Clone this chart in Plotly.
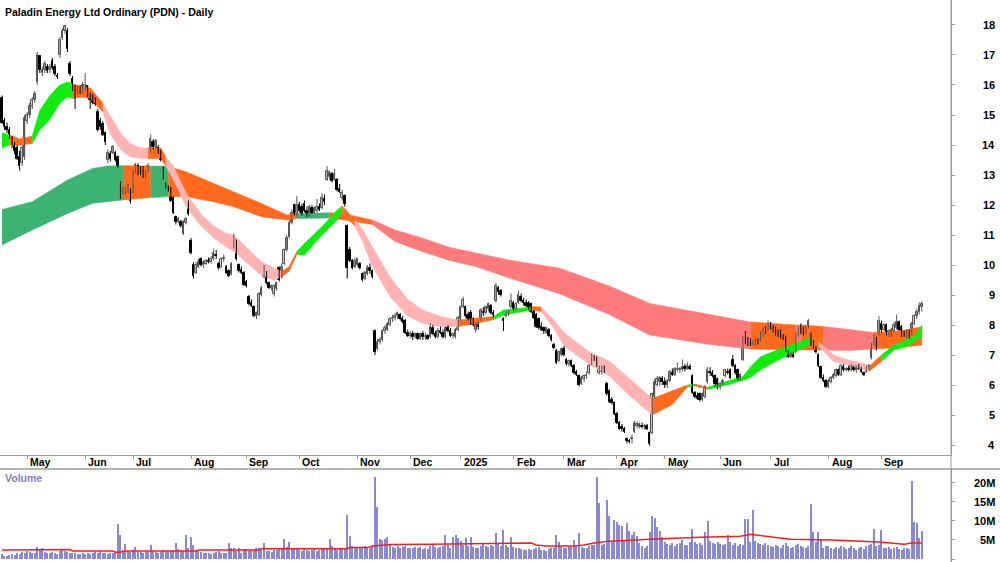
import pandas as pd
import plotly.graph_objects as go

# ---------------- data ----------------
holidays = ["2024-04-25", "2024-06-10", "2024-12-25", "2024-12-26", "2025-01-01",
            "2025-01-27", "2025-04-18", "2025-04-21", "2025-04-25", "2025-06-09"]
dates = pd.bdate_range("2024-04-16", "2025-09-23")
dates = dates[~dates.isin(pd.to_datetime(holidays))]

opens = [
    15.55,14.8,14.6,14.5,14.2,14.0,13.9,13.6,13.4,13.6,
    14.8,15.0,15.3,15.5,16.1,16.95,16.4,16.5,16.6,16.5,16.8,16.6,16.3,17.0,17.55,17.8,17.8,16.7,16.2,15.9,15.8,15.9,15.8,
    15.9,15.95,15.7,15.65,15.55,15.1,14.8,14.7,14.4,13.5,13.7,13.75,13.75,13.6,12.6,12.45,12.4,12.5,12.5,
    12.45,13.1,13.3,13.2,13.2,12.95,13.15,13.8,14.1,13.95,13.9,13.8,13.2,12.7,12.6,12.55,12.25,11.6,11.45,11.45,11.05,11.4,12.05,
    10.8,10.0,9.75,9.95,10.2,10.0,10.05,10.15,10.1,10.2,10.35,10.05,9.95,10.2,9.95,9.8,9.7,10.6,10.8,10.0,9.85,9.75,
    9.45,8.95,8.75,8.6,8.3,8.35,9.0,9.6,9.75,9.4,9.25,9.05,9.2,9.9,9.6,10.05,10.5,10.95,11.4,12.0,11.7,
    12.0,11.95,12.05,11.8,11.65,11.9,11.75,11.8,11.95,11.9,12.2,12.85,12.95,13.05,12.85,12.85,12.55,12.25,12.3,11.3,10.5,10.15,9.95,
    10.0,10.05,9.7,9.55,9.7,9.9,9.8,7.8,7.2,7.45,7.5,7.8,7.85,8.0,8.2,8.25,8.3,8.35,8.2,8.15,7.75,
    7.65,7.7,7.6,7.7,7.55,7.7,7.6,7.65,7.6,7.9,7.7,7.6,7.8,7.75,7.6,7.9,7.8,7.65,7.6,7.85,
    8.2,8.6,8.6,8.35,8.4,8.2,7.85,8.0,8.2,8.45,8.4,8.55,8.65,8.4,8.8,9.25,9.15,8.2,8.3,8.4,8.6,
    8.75,8.55,8.75,8.95,8.8,8.75,8.75,8.7,8.45,8.35,8.2,7.95,7.9,7.75,7.85,7.65,7.35,7.15,6.8,7.0,
    7.2,6.85,6.7,6.8,6.65,6.45,6.3,6.05,6.2,6.3,6.4,6.7,6.95,6.9,6.4,6.45,6.6,6.05,5.8,5.5,5.4,
    5.05,4.75,4.6,4.55,4.2,4.15,4.2,4.45,4.65,4.6,4.65,4.6,4.65,4.4,4.4,5.6,6.0,6.1,6.2,
    6.1,6.0,6.15,6.4,6.35,6.5,6.5,6.5,6.6,6.55,6.6,6.3,5.75,5.65,5.7,5.5,5.6,6.1,6.45,6.4,6.3,6.2,
    5.95,6.05,6.3,6.45,6.5,6.85,6.65,6.5,6.25,6.85,7.5,7.45,7.4,7.35,7.35,7.45,7.5,7.7,7.85,7.85,
    8.05,7.95,7.9,7.75,7.8,7.6,7.6,7.1,6.95,7.0,7.1,7.65,7.9,7.8,7.75,7.95,7.7,7.4,7.25,7.0,6.6,6.25,6.15,
    5.95,6.1,6.25,6.3,6.5,6.35,6.6,6.5,6.55,6.5,6.6,6.5,6.6,6.5,6.4,6.45,6.6,6.9,7.35,7.55,7.7,
    8.05,7.85,8.0,7.7,7.65,7.8,7.9,8.1,7.95,7.7,7.6,7.75,7.7,8.05,8.3,8.45,8.6,
]
highs = [
    15.65,14.9,14.75,14.6,14.3,14.1,14.0,13.8,14.0,15.0,
    15.1,15.4,15.6,15.8,17.1,17.0,16.6,16.8,16.7,16.7,16.9,16.7,16.4,17.6,17.9,18.0,17.9,16.8,16.3,16.0,16.0,16.0,16.1,
    16.4,16.0,15.75,15.7,15.6,15.2,14.9,14.8,14.45,13.85,13.8,14.0,13.8,13.65,12.8,12.6,12.6,12.7,12.55,
    13.2,13.4,13.4,13.3,13.3,13.15,13.4,14.35,14.2,14.2,14.0,13.85,13.3,12.75,12.65,12.6,12.3,11.65,11.6,11.5,11.5,11.6,12.15,
    10.9,10.1,10.1,10.2,10.25,10.15,10.2,10.25,10.3,10.55,10.5,10.1,10.25,10.35,10.0,9.85,10.1,11.05,10.85,10.05,9.95,9.8,
    9.5,9.0,8.85,8.65,8.45,9.1,9.3,10.0,9.8,9.45,9.35,9.35,9.45,9.95,10.05,10.55,11.0,11.5,11.85,12.05,12.3,
    12.1,12.05,12.15,11.95,12.0,12.0,11.95,12.2,12.05,12.4,12.35,13.3,13.15,13.1,13.2,12.9,12.7,12.5,12.35,11.35,10.6,10.2,10.25,
    10.25,10.1,9.75,9.8,10.0,10.05,9.85,7.85,7.55,7.6,7.85,8.0,8.1,8.25,8.35,8.4,8.45,8.4,8.3,8.2,7.85,
    7.8,7.8,7.75,7.75,7.75,7.8,7.75,7.7,8.05,8.0,7.8,7.9,7.95,7.85,7.95,8.0,7.9,7.75,7.9,8.3,
    8.65,8.95,8.65,8.45,8.5,8.25,8.1,8.1,8.55,8.6,8.65,8.75,8.7,8.5,9.4,9.3,9.2,8.25,8.45,8.5,9.05,
    8.8,8.75,9.15,9.05,8.9,8.85,8.8,8.75,8.5,8.4,8.25,8.1,7.95,7.95,7.9,7.7,7.4,7.2,7.15,7.25,
    7.3,6.9,6.85,6.85,6.7,6.5,6.35,6.3,6.35,6.45,6.7,7.05,7.0,6.95,6.65,6.65,6.65,6.1,5.85,5.6,5.45,
    5.1,4.8,4.7,4.6,4.25,4.2,4.35,4.8,4.8,4.75,4.75,4.7,4.7,4.45,5.75,6.2,6.3,6.3,6.3,
    6.25,6.2,6.5,6.55,6.6,6.75,6.6,6.85,6.7,6.75,6.7,6.35,5.8,5.75,5.75,5.75,6.0,6.6,6.6,6.5,6.35,6.25,
    6.1,6.2,6.55,6.55,6.55,7.0,6.7,6.55,6.4,7.65,7.8,7.6,7.55,7.5,7.55,7.55,7.8,7.95,7.95,8.15,
    8.1,8.0,7.95,7.85,7.85,7.7,7.65,7.15,7.1,7.1,7.75,7.95,8.05,7.95,8.0,8.2,7.75,7.5,7.3,7.05,6.65,6.35,6.2,
    6.2,6.3,6.4,6.55,6.55,6.7,6.7,6.6,6.65,6.7,6.65,6.65,6.7,6.6,6.45,6.65,6.7,7.4,7.7,7.6,8.3,
    8.15,8.05,8.05,7.85,7.9,8.1,8.35,8.15,8.0,7.8,7.85,7.85,8.1,8.35,8.55,8.75,8.8,
]
lows = [
    14.7,14.5,14.4,14.2,13.9,13.7,13.5,13.15,13.3,13.5,
    14.7,14.9,15.2,15.4,16.0,16.4,16.3,16.4,16.4,16.4,16.5,16.3,16.2,16.9,17.5,17.7,17.1,16.3,15.8,15.2,15.7,15.7,15.7,
    15.8,15.6,15.2,15.35,15.3,14.45,14.5,14.3,14.0,13.4,13.45,13.7,13.45,13.25,12.2,12.35,12.35,12.4,12.05,
    12.4,13.05,13.0,13.0,12.9,12.9,13.1,13.75,13.85,13.9,13.7,13.45,12.85,12.55,12.45,12.1,11.7,11.35,11.4,11.25,11.0,11.35,11.65,
    10.35,9.55,9.7,9.9,9.95,9.9,10.0,10.05,10.05,10.15,10.2,9.85,9.9,10.1,9.7,9.6,9.65,10.55,10.15,9.75,9.7,9.3,
    9.25,8.65,8.6,8.25,8.2,8.3,8.95,9.55,9.35,9.2,9.15,8.95,9.15,9.45,9.55,10.0,10.45,10.9,11.35,11.65,11.6,
    11.75,11.65,11.75,11.6,11.6,11.7,11.7,11.75,11.8,11.85,12.0,12.8,12.85,12.75,12.8,12.45,12.4,12.15,11.95,9.55,10.1,9.85,9.9,
    9.95,9.85,9.45,9.5,9.65,9.7,9.55,7.0,7.15,7.35,7.45,7.7,7.8,7.95,8.1,8.15,8.2,8.15,8.05,7.7,7.6,
    7.55,7.5,7.55,7.5,7.5,7.5,7.5,7.5,7.55,7.65,7.55,7.55,7.7,7.55,7.55,7.75,7.6,7.55,7.55,7.8,
    8.15,8.55,8.25,8.15,8.0,7.95,7.75,7.85,8.15,8.3,8.35,8.45,8.35,8.25,8.75,9.0,8.95,7.8,8.25,8.3,8.55,
    8.45,8.5,8.7,8.75,8.65,8.6,8.5,8.4,8.2,7.9,7.85,7.8,7.7,7.7,7.6,7.45,7.2,6.7,6.75,6.95,
    6.95,6.65,6.6,6.6,6.35,6.3,5.95,6.0,6.1,6.2,6.35,6.65,6.8,6.6,6.35,6.35,6.4,5.65,5.4,5.35,5.0,
    4.7,4.5,4.45,4.4,4.05,4.05,4.05,4.4,4.55,4.55,4.55,4.5,4.5,3.98,4.35,5.55,5.95,5.95,6.0,
    5.9,5.9,6.1,6.3,6.3,6.45,6.4,6.45,6.45,6.5,6.5,5.7,5.55,5.5,5.45,5.45,5.55,6.05,6.3,6.25,5.95,5.85,
    5.85,6.0,6.25,6.35,6.2,6.6,6.35,6.15,6.15,6.8,7.35,7.3,7.3,7.3,7.3,7.35,7.45,7.6,7.7,7.8,
    7.85,7.75,7.65,7.6,7.55,7.5,7.1,6.9,6.9,6.9,7.05,7.6,7.7,7.65,7.7,7.9,7.3,7.2,7.05,6.6,6.2,6.1,5.9,
    5.9,6.05,6.2,6.25,6.3,6.3,6.45,6.45,6.45,6.45,6.45,6.4,6.5,6.4,6.3,6.4,6.5,6.85,7.3,7.15,7.65,
    7.75,7.8,7.65,7.6,7.6,7.75,7.85,7.8,7.6,7.6,7.55,7.55,7.65,8.0,8.2,8.35,8.45,
]
closes = [
    14.75,14.6,14.5,14.3,14.0,13.8,13.55,13.3,13.9,14.9,
    15.0,15.3,15.5,15.7,17.0,16.5,16.5,16.7,16.45,16.6,16.55,16.35,16.25,17.5,17.8,17.95,17.2,16.35,15.85,15.65,15.95,15.8,16.0,
    16.0,15.7,15.5,15.4,15.35,14.5,14.6,14.35,14.1,13.75,13.55,13.95,13.5,13.3,12.45,12.5,12.55,12.6,12.15,
    13.15,13.35,13.15,13.1,12.95,13.1,13.3,14.2,13.95,14.15,13.8,13.5,12.9,12.6,12.5,12.15,11.75,11.45,11.55,11.3,11.45,11.55,11.7,
    10.4,9.65,10.0,10.1,10.0,10.1,10.15,10.1,10.2,10.4,10.3,9.9,10.2,10.25,9.75,9.65,10.05,10.95,10.2,9.8,9.75,9.35,
    9.3,8.7,8.65,8.3,8.4,9.05,9.25,9.95,9.4,9.25,9.3,9.3,9.4,9.5,9.95,10.5,10.9,11.4,11.75,11.7,12.0,
    11.8,11.7,11.8,11.7,11.95,11.75,11.9,11.95,11.85,12.25,12.1,13.15,13.1,12.8,13.05,12.5,12.45,12.4,12.05,9.9,10.15,9.9,10.15,
    10.2,9.9,9.5,9.75,9.9,9.8,9.6,7.1,7.45,7.5,7.8,7.9,8.05,8.2,8.25,8.3,8.4,8.2,8.1,7.75,7.65,
    7.7,7.6,7.7,7.55,7.7,7.6,7.65,7.55,7.95,7.7,7.6,7.8,7.75,7.6,7.9,7.8,7.65,7.7,7.85,8.25,
    8.6,8.85,8.3,8.2,8.05,8.0,8.05,7.95,8.5,8.4,8.6,8.7,8.4,8.35,9.3,9.1,9.0,8.15,8.4,8.45,8.8,
    8.55,8.7,9.0,8.8,8.75,8.65,8.55,8.45,8.25,7.95,7.9,7.85,7.8,7.9,7.65,7.5,7.25,6.75,7.1,7.2,
    7.0,6.7,6.8,6.65,6.4,6.35,6.0,6.25,6.3,6.35,6.65,6.95,6.85,6.65,6.6,6.6,6.5,5.7,5.45,5.4,5.05,
    4.75,4.55,4.55,4.45,4.15,4.1,4.25,4.75,4.7,4.7,4.6,4.65,4.55,4.05,5.7,6.1,6.2,6.25,6.1,
    6.0,6.15,6.45,6.35,6.55,6.5,6.55,6.6,6.55,6.65,6.55,5.75,5.6,5.55,5.5,5.7,5.95,6.5,6.4,6.3,6.05,5.9,
    6.05,6.15,6.5,6.4,6.25,6.65,6.4,6.2,6.35,7.55,7.45,7.4,7.35,7.45,7.5,7.4,7.75,7.85,7.8,8.05,
    7.95,7.85,7.7,7.7,7.6,7.55,7.15,6.95,7.05,6.95,7.7,7.9,7.8,7.75,7.95,8.15,7.35,7.25,7.1,6.65,6.25,6.15,5.95,
    6.15,6.25,6.35,6.5,6.35,6.65,6.5,6.55,6.5,6.65,6.5,6.6,6.55,6.45,6.35,6.6,6.65,7.35,7.65,7.2,8.15,
    7.85,8.0,7.7,7.8,7.85,8.0,8.1,7.85,7.65,7.65,7.8,7.6,8.05,8.3,8.45,8.65,8.7,
]
volume_m = [
    1.2,0.9,0.8,1.0,1.3,1.1,1.6,1.4,1.8,1.5,
    2.0,1.8,1.6,1.5,3.2,2.4,2.9,1.9,1.7,1.6,1.8,1.5,1.4,2.2,2.5,2.0,1.8,1.7,1.5,1.6,1.4,1.3,1.5,
    1.4,1.6,1.3,1.5,1.8,1.6,2.0,1.5,1.7,1.4,1.6,1.5,1.8,9.2,6.3,2.2,3.9,2.0,1.8,
    2.3,3.2,2.0,1.8,1.6,2.1,1.9,3.6,2.2,1.8,1.7,1.9,2.4,2.0,2.2,2.1,2.5,4.3,2.6,2.4,2.0,6.3,2.8,
    5.7,3.6,2.5,2.2,1.8,1.6,1.5,1.7,1.4,1.6,1.9,2.0,1.7,1.5,1.6,4.3,3.0,2.9,2.0,2.9,1.6,2.4,
    2.6,2.2,2.0,2.4,2.8,3.0,2.5,4.3,2.2,2.0,1.8,2.3,2.5,3.0,2.7,5.2,3.2,4.6,3.0,2.8,2.6,
    2.4,2.2,2.6,2.3,2.0,2.5,2.8,2.2,2.4,2.6,2.8,3.0,5.3,3.4,2.6,2.4,2.8,3.0,2.9,11.6,6.1,3.3,2.8,
    3.2,3.0,2.8,3.4,3.1,2.9,3.3,21.5,13.6,5.2,4.9,5.3,5.7,3.8,3.2,3.0,3.4,2.9,3.1,3.3,3.0,
    3.0,2.8,3.1,2.9,3.2,2.7,3.0,2.6,3.4,3.8,3.1,2.9,3.2,3.3,6.3,3.6,3.0,5.7,6.3,5.5,
    4.8,3.6,5.6,3.3,5.7,3.2,3.0,2.8,3.5,3.9,3.4,3.1,3.6,3.3,6.9,4.0,3.5,7.5,3.8,3.2,5.7,
    3.2,2.8,3.0,2.6,2.5,2.4,2.7,2.3,2.6,2.9,3.1,2.5,2.4,2.2,2.6,2.8,3.0,6.3,4.6,3.2,
    3.0,2.8,3.3,3.2,4.9,3.5,6.8,3.2,3.0,2.9,3.3,3.6,3.8,21.5,14.8,3.6,3.9,15.5,11.3,4.5,10.3,
    9.8,8.9,8.7,5.0,9.6,7.3,6.2,7.1,6.0,4.2,3.5,3.0,3.3,7.1,11.3,10.7,8.3,7.3,5.7,
    4.5,4.0,3.8,4.2,3.5,3.9,4.1,5.0,3.6,3.8,4.4,7.9,4.6,4.0,4.3,3.7,7.1,10.1,4.8,4.2,3.9,4.5,
    4.0,3.6,3.9,6.2,4.4,3.8,4.2,3.5,4.0,3.7,10.4,10.4,4.5,12.9,4.8,4.2,3.9,3.6,4.1,3.8,
    3.5,3.2,3.8,3.3,3.0,3.6,4.2,3.4,2.9,3.1,3.7,4.0,3.5,3.2,2.8,3.3,14.5,7.0,4.4,7.0,5.2,3.0,3.4,
    3.3,3.0,2.7,3.2,2.9,3.5,3.1,2.6,2.8,3.4,3.0,2.5,2.9,3.2,2.7,3.3,3.6,4.0,7.8,3.5,3.8,
    7.6,3.0,2.8,3.2,2.6,2.9,3.1,2.7,2.5,2.8,3.0,2.6,20.5,9.8,9.6,5.4,7.4,
]

# volume average line, read at knots (bar number, millions)
vol_avg_bar = [0, 10, 11, 27, 28, 44, 45, 47, 48, 77, 78, 102, 103, 137, 138, 145, 147, 154, 170, 198,
               210, 212, 216, 227, 231, 235, 241, 257, 269, 277, 293, 297, 303, 313, 329, 341, 348, 358, 361, 365]
vol_avg_val = [2.4, 2.4, 2.5, 2.5, 2.1, 2.1, 1.8, 1.8, 2.1, 2.1, 2.4, 2.4, 2.7, 2.7, 3.0, 3.0, 3.4, 3.8, 3.9, 4.1,
               4.2, 3.7, 3.4, 3.4, 3.7, 4.2, 4.7, 5.2, 5.4, 5.7, 6.0, 6.5, 6.0, 5.2, 5.0, 4.6, 4.5, 3.9, 4.2, 4.2]

# short-term ribbon (bar number, upper, lower, colour of following segment)
short_bar = [0, 3, 7, 12, 15, 19, 23, 26, 28, 31, 35, 38, 40, 43, 47, 51, 55, 58, 63, 65, 68, 73, 79, 84, 89, 92,
             103, 108, 111, 114, 117, 120, 127, 133, 135, 140, 143, 147, 154, 161, 167, 174, 181, 188, 195, 199,
             206, 210, 214, 219, 223, 233, 241, 248, 254, 258, 266, 272, 275, 280, 285, 294, 297, 301, 304, 312,
             321, 324, 330, 336, 342, 344, 349, 354, 359, 363, 365]
short_up = [14.4, 14.35, 14.2, 14.3, 15.15, 15.65, 16.0, 16.1, 16.05, 15.95, 15.9, 15.6, 15.4, 14.95, 14.4, 14.05,
            13.9, 13.9, 13.9, 13.6, 13.3, 12.4, 11.7, 11.3, 11.05, 11.0, 10.1, 9.9, 9.78, 9.95, 10.45, 10.72, 11.28,
            11.83, 11.97, 11.5, 11.2, 10.6, 9.6, 8.85, 8.5, 8.28, 8.17, 8.22, 8.28, 8.5, 8.56, 8.61, 8.6, 8.17, 7.75,
            7.1, 6.8, 6.28, 5.83, 5.55, 5.8, 6.0, 6.03, 5.92, 6.06, 6.28, 6.6, 6.94, 7.05, 7.3, 7.58, 7.45, 7.0, 6.83,
            6.72, 6.62, 7.0, 7.33, 7.5, 7.72, 8.0]
short_lo = [13.9, 14.0, 14.0, 14.05, 14.5, 14.85, 15.4, 15.6, 15.55, 15.6, 15.55, 15.28, 15.1, 14.35, 13.85, 13.6,
            13.55, 13.55, 13.55, 13.3, 12.85, 11.95, 11.3, 10.9, 10.6, 10.45, 9.65, 9.5, 9.6, 9.8, 10.35, 10.33, 11.0,
            11.5, 11.75, 11.3, 10.8, 9.95, 8.95, 8.3, 8.05, 7.95, 7.95, 8.05, 8.18, 8.33, 8.44, 8.5, 8.45, 7.89, 7.3,
            6.7, 6.3, 5.72, 5.28, 5.0, 5.35, 5.93, 5.97, 5.86, 5.94, 6.15, 6.25, 6.5, 6.65, 7.0, 7.35, 7.3, 6.78, 6.67,
            6.5, 6.45, 6.78, 7.17, 7.28, 7.5, 7.61]
short_col = ["G", "O", "O", "G", "G", "G", "G", "G", "O", "O", "O", "O", "P", "P", "P", "P", "P", "O", "O", "P", "P",
             "P", "P", "P", "P", "P", "P", "P", "O", "O", "G", "G", "G", "G", "O", "P", "P", "P", "P", "P", "P", "P",
             "O", "O", "G", "G", "G", "O", "P", "P", "P", "P", "P", "P", "P", "O", "O", "G", "O", "G", "G", "G", "G",
             "G", "G", "G", "O", "P", "P", "P", "P", "O", "G", "G", "G", "G", "G"]

# long-term ribbon
long_bar = [0, 12, 26, 36, 42, 48, 59, 66, 73, 84, 92, 103, 113, 117, 130, 136, 147, 156, 167, 177, 188, 202,
            221, 241, 257, 281, 297, 315, 317, 326, 336, 346, 356, 365]
long_up = [11.85, 12.11, 12.83, 13.22, 13.3, 13.31, 13.3, 13.28, 13.11, 12.72, 12.44, 12.05, 11.67, 11.72, 11.74,
           11.7, 11.5, 11.17, 10.89, 10.6, 10.4, 10.15, 9.9, 9.3, 8.72, 8.35, 8.1, 8.0, 8.0, 7.95, 7.85, 7.75, 7.8, 7.94]
long_lo = [10.67, 11.17, 11.72, 12.06, 12.11, 12.17, 12.25, 12.28, 12.28, 12.11, 11.94, 11.61, 11.5, 11.55, 11.57,
           11.5, 11.35, 10.78, 10.44, 10.17, 9.95, 9.55, 9.05, 8.35, 7.67, 7.35, 7.2, 7.17, 7.17, 7.17, 7.15, 7.2, 7.25, 7.33]
long_col = ["D", "D", "D", "D", "D", "O", "D", "O", "O", "O", "O", "O", "O", "D", "O", "O", "R", "R", "R", "R", "R",
            "R", "R", "R", "R", "R", "O", "R", "O", "R", "R", "O", "O", "O"]

month_names = {1: "2025", 2: "Feb", 3: "Mar", 4: "Apr", 5: "May", 6: "Jun", 7: "Jul", 8: "Aug",
               9: "Sep", 10: "Oct", 11: "Nov", 12: "Dec"}
price_ticks = list(range(4, 19))
vol_ticks = [5, 10, 15, 20]

# ---------------- figure ----------------
n = min(len(dates), len(opens), len(highs), len(lows), len(closes), len(volume_m))
dates = dates[:n]
xi = list(range(n))

COLORS = {"G": "#10EC10", "O": "#FF6A1E", "P": "#FFB4B4", "D": "#3CB371", "R": "#FF7A7A"}
FONT = "Arial, Liberation Sans, sans-serif"

fig = go.Figure()


def add_ribbon(bars, up, lo, cols):
    k = 0
    m = len(bars)
    while k < m - 1:
        c = cols[k]
        j = k
        while j + 1 < m - 1 and cols[j + 1] == c:
            j += 1
        seg = range(k, j + 2)
        xs = [bars[s] for s in seg] + [bars[s] for s in reversed(seg)]
        ys = [up[s] for s in seg] + [lo[s] for s in reversed(seg)]
        fig.add_trace(go.Scatter(x=xs, y=ys, mode="lines", fill="toself", fillcolor=COLORS[c],
                                 line=dict(width=0.6, color=COLORS[c]), hoverinfo="skip",
                                 showlegend=False, xaxis="x", yaxis="y"))
        k = j + 1


add_ribbon(long_bar, long_up, long_lo, long_col)
add_ribbon(short_bar, short_up, short_lo, short_col)

# candles: wicks + bodies
up_idx = [k for k in xi if closes[k] >= opens[k]]
dn_idx = [k for k in xi if closes[k] < opens[k]]


def wick_xy(idx):
    wx, wy = [], []
    for k in idx:
        wx += [k, k, None]
        wy += [lows[k], highs[k], None]
    return wx, wy


for idx, col in ((up_idx, "#555555"), (dn_idx, "#000000")):
    wx, wy = wick_xy(idx)
    fig.add_trace(go.Scatter(x=wx, y=wy, mode="lines", line=dict(color=col, width=1),
                             hoverinfo="skip", showlegend=False, xaxis="x", yaxis="y"))

for idx, fill, edge in ((up_idx, "white", "#555555"), (dn_idx, "black", "black")):
    base = [min(opens[k], closes[k]) for k in idx]
    hgt = [max(abs(closes[k] - opens[k]), 0.03) for k in idx]
    fig.add_trace(go.Bar(x=idx, y=hgt, base=base, width=0.62,
                         marker=dict(color=fill, line=dict(color=edge, width=1)),
                         hoverinfo="skip", showlegend=False, xaxis="x", yaxis="y"))

fig.add_trace(go.Bar(x=xi, y=volume_m[:n], width=0.45, marker=dict(color="#8888D6", line=dict(width=0)),
                     hoverinfo="skip", showlegend=False, xaxis="x2", yaxis="y2"))
fig.add_trace(go.Scatter(x=vol_avg_bar, y=vol_avg_val, mode="lines", line=dict(color="#FF1A1A", width=1.5),
                         hoverinfo="skip", showlegend=False, xaxis="x2", yaxis="y2"))

# month starts
month_idx, month_lab = [], []
for k in range(1, n):
    if dates[k].month != dates[k - 1].month:
        month_idx.append(k)
        month_lab.append(month_names[dates[k].month])

ppb = 2.52
x_lo = -2 / ppb
x_hi = x_lo + 951 / ppb
XD = [0, 0.951]
price_dom = [(562 - 455) / 562, 1]
vol_dom = [0, (562 - 469) / 562]

fig.update_layout(
    width=1000, height=562, margin=dict(l=0, r=0, t=0, b=0),
    paper_bgcolor="white", plot_bgcolor="white", barmode="overlay", bargap=0, showlegend=False,
    xaxis=dict(domain=XD, range=[x_lo, x_hi], anchor="y", showgrid=False, zeroline=False,
               showline=True, linecolor="#9a9a9a", linewidth=1, ticks="outside", ticklen=3,
               tickcolor="#9a9a9a", tickvals=month_idx, showticklabels=False,
               rangeslider=dict(visible=False)),
    yaxis=dict(domain=price_dom, range=[3.667, 18.833], side="right", anchor="x", showgrid=False,
               zeroline=False, showline=True, linecolor="#9a9a9a", ticks="outside", ticklen=3,
               tickcolor="#9a9a9a", tickvals=price_ticks, showticklabels=False),
    xaxis2=dict(domain=XD, range=[x_lo, x_hi], anchor="y2", matches="x", showgrid=False, zeroline=False,
                showline=False, showticklabels=False, ticks=""),
    yaxis2=dict(domain=vol_dom, range=[-0.79, 23.68], side="right", anchor="x2", showgrid=False,
                zeroline=False, showline=True, linecolor="#9a9a9a", ticks="outside", ticklen=3,
                tickcolor="#9a9a9a", tickvals=[0] + vol_ticks, showticklabels=False),
)

shapes = [
    dict(type="line", xref="paper", yref="paper", x0=0, x1=1, y0=vol_dom[1], y1=vol_dom[1],
         line=dict(color="#6a6a6a", width=1)),
    dict(type="line", xref="paper", yref="paper", x0=XD[1], x1=XD[1], y0=0, y1=1,
         line=dict(color="#9a9a9a", width=1)),
]
fig.update_layout(shapes=shapes)

ann = []
ann.append(dict(text="<b>Paladin Energy Ltd Ordinary (PDN) - Daily</b>", xref="paper", yref="paper",
                x=0.003, y=1 - 12 / 562, xanchor="left", yanchor="middle", showarrow=False,
                font=dict(family=FONT, size=10.5, color="black")))
ann.append(dict(text="<b>Volume</b>", xref="paper", yref="paper", x=0.003, y=(562 - 478) / 562,
                xanchor="left", yanchor="middle", showarrow=False,
                font=dict(family=FONT, size=10.5, color="#7f7fc4")))
for k, lab in zip(month_idx, month_lab):
    ann.append(dict(text="<b>%s</b>" % lab, x=k, xref="x", y=(562 - 462) / 562, yref="paper",
                    xanchor="left", yanchor="middle", xshift=1, showarrow=False,
                    font=dict(family=FONT, size=10.5, color="black")))
for v in price_ticks:
    ann.append(dict(text="<b>%d</b>" % v, xref="paper", x=0.997, y=v, yref="y", xanchor="right",
                    yanchor="middle", showarrow=False, font=dict(family=FONT, size=11, color="black")))
for v in vol_ticks:
    ann.append(dict(text="<b>%dM</b>" % v, xref="paper", x=0.997, y=v, yref="y2", xanchor="right",
                    yanchor="middle", showarrow=False, font=dict(family=FONT, size=11, color="black")))
fig.update_layout(annotations=ann)

fig.write_html("out.html")
